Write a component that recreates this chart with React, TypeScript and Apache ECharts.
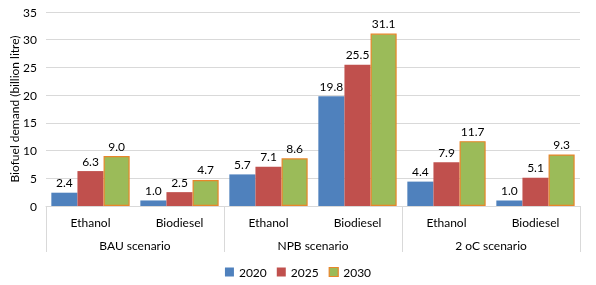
import React, { useEffect, useRef } from "react";
import * as echarts from "echarts";

const subCategories = ["Ethanol", "Biodiesel", "Ethanol", "Biodiesel", "Ethanol", "Biodiesel"];
const groups = ["BAU scenario", "NPB scenario", "2 oC scenario"];
const years = ["2020", "2025", "2030"];
const values2020 = [2.4, 1.0, 5.7, 19.8, 4.4, 1.0];
const values2025 = [6.3, 2.5, 7.1, 25.5, 7.9, 5.1];
const values2030 = [9.0, 4.7, 8.6, 31.1, 11.7, 9.3];
const yTicks = { min: 0, max: 35, interval: 5 };

const colors = ["#4F81BD", "#C0504D", "#9BBB59"];
const FONT = "Lato";
const FS = 12;

export default function App() {
  const ref = useRef<HTMLDivElement>(null);
  useEffect(() => {
    if (!ref.current) return;
    const chart = echarts.init(ref.current, undefined, { renderer: "svg" });
    const seriesData = [values2020, values2025, values2030];
    chart.setOption({
      animation: false,
      textStyle: { fontFamily: FONT },
      grid: { left: 46, right: 16, top: 12, bottom: 79, outerBoundsMode: "none", containLabel: false },
      legend: {
        top: 261,
        left: "center",
        itemWidth: 9,
        itemHeight: 9,
        itemGap: 10,
        icon: "rect",
        textStyle: { fontFamily: FONT, fontSize: FS, color: "#000" },
        data: years.map((y, i) =>
          i === 2
            ? { name: y, itemStyle: { borderColor: "#E8862A", borderWidth: 1.2 } }
            : { name: y }
        ),
      },
      xAxis: [
        {
          type: "category",
          data: subCategories,
          position: "bottom",
          axisLine: { show: true, lineStyle: { color: "#D9D9D9" } },
          axisTick: { show: false },
          axisLabel: { fontFamily: FONT, fontSize: FS, color: "#000", margin: 10, interval: 0 },
        },
        {
          type: "category",
          data: groups,
          position: "bottom",
          axisLine: { show: false },
          axisTick: { show: true, length: 46, lineStyle: { color: "#D9D9D9" } },
          axisLabel: { fontFamily: FONT, fontSize: FS, color: "#000", margin: 33, interval: 0 },
          splitLine: { show: false },
        },
      ],
      yAxis: {
        type: "value",
        min: yTicks.min,
        max: yTicks.max,
        interval: yTicks.interval,
        name: "Biofuel demand (billion litre)",
        nameLocation: "middle",
        nameGap: 26,
        nameMoveOverlap: false,
        nameTextStyle: { fontFamily: FONT, fontSize: FS, color: "#000" },
        axisLine: { show: false },
        axisTick: { show: false },
        axisLabel: { fontFamily: FONT, fontSize: FS, color: "#000", margin: 9 },
        splitLine: { lineStyle: { color: "#D9D9D9" } },
      },
      series: years.map((y, i) => ({
        name: y,
        type: "bar",
        xAxisIndex: 0,
        data: seriesData[i],
        barGap: "0%",
        barCategoryGap: "12%",
        itemStyle: {
          color: colors[i],
          borderColor: i === 2 ? "#E8862A" : colors[i],
          borderWidth: i === 2 ? 1.2 : 0,
        },
        label: {
          show: true,
          position: "top",
          distance: 4,
          fontFamily: FONT,
          fontSize: FS,
          color: "#000",
          formatter: (p: any) => Number(p.value).toFixed(1),
        },
      })),
    });
    return () => chart.dispose();
  }, []);
  return (
    <div
      ref={ref}
      style={{ position: "fixed", left: 0, top: 0, width: 596, height: 285 }}
    />
  );
}
